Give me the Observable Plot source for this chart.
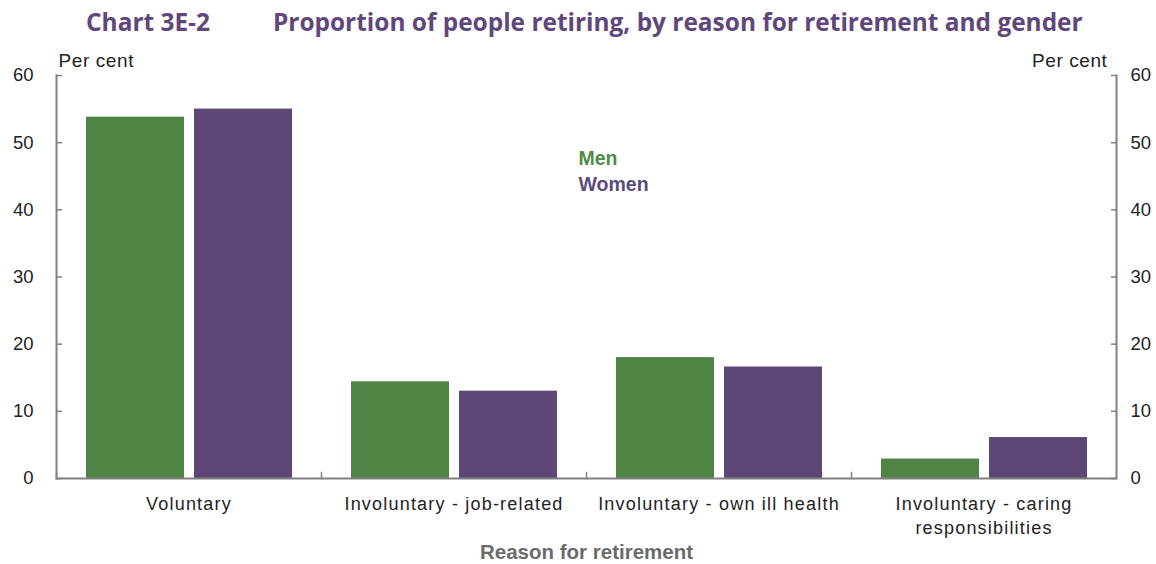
<!DOCTYPE html>
<html>
<head>
<meta charset="utf-8">
<script src="https://cdn.jsdelivr.net/npm/d3@7"></script>
<script src="https://cdn.jsdelivr.net/npm/@observablehq/plot@0.6"></script>
<style>
  html, body { margin: 0; padding: 0; background: #fff; }
  body { width: 1156px; height: 564px; overflow: hidden; }
  #title { position: relative; height: 44px; font-family: "Open Sans", Lato, sans-serif; font-weight: bold; color: #5f477b; font-size: 22px; line-height: 1; }
  #title span { position: absolute; top: 10px; white-space: nowrap; }
  #t1 { left: 86px; }
  #t2 { left: 273px; }
  #chart svg g[aria-label="fx-axis tick label"] text { letter-spacing: 1.2px; }
  #chart svg .percent-label text { letter-spacing: 0.6px; }
</style>
</head>
<body>
<div id="title"><span id="t1">Chart 3E-2</span><span id="t2">Proportion of people retiring, by reason for retirement and gender</span></div>
<div id="chart"></div>
<script>
const categories = ["Voluntary", "Involuntary - job-related", "Involuntary - own ill health", "Involuntary - caring responsibilities"];
const categoryLabels = ["Voluntary", "Involuntary - job-related", "Involuntary - own ill health", "Involuntary - caring\nresponsibilities"];
const genders = ["Men", "Women"];
const menValues = [53.8, 14.4, 18.0, 2.9];
const womenValues = [55.0, 13.0, 16.6, 6.1];
const yTicks = [0, 10, 20, 30, 40, 50, 60];
const colors = ["#4f8544", "#5e4776"];

const data = categories.flatMap((c, i) => [
  {category: c, gender: genders[0], value: menValues[i]},
  {category: c, gender: genders[1], value: womenValues[i]}
]);
const labelOf = new Map(categories.map((c, i) => [c, categoryLabels[i]]));

const W = 1156, H = 520, MT = 31, MB = 86, ML = 56, MR = 40;
const axisGray = "#808080";

const chart = Plot.plot({
  width: W, height: H,
  marginTop: MT, marginBottom: MB, marginLeft: ML, marginRight: MR,
  style: {fontFamily: "'Liberation Sans', Arial, sans-serif", fontSize: "18px", color: "#222", background: "#fff"},
  fx: {domain: categories, padding: 0, label: null},
  x: {domain: genders, paddingInner: 0.0926, paddingOuter: 0.273, axis: null},
  y: {domain: [0, 60]},
  color: {domain: genders, range: colors},
  marks: [
    Plot.barY(data, {fx: "category", x: "gender", y: "value", fill: "gender"}),
    Plot.ruleY([0], {stroke: axisGray, strokeWidth: 2}),
    Plot.frame({anchor: "left", insetTop: H - MT - MB - 6, stroke: axisGray, strokeWidth: 1.5}),
    Plot.frame({anchor: "left", facet: "super", stroke: axisGray, strokeWidth: 2}),
    Plot.frame({anchor: "right", facet: "super", stroke: axisGray, strokeWidth: 2}),
    Plot.axisY(yTicks, {anchor: "left", tickSize: -6, text: null, label: null, stroke: axisGray, strokeWidth: 1.5}),
    Plot.axisY(yTicks, {anchor: "left", tickSize: 0, tickPadding: 23, label: null, fill: "#222", fontSize: 18.5}),
    Plot.axisY(yTicks, {anchor: "right", tickSize: -6, text: null, label: null, stroke: axisGray, strokeWidth: 1.5}),
    Plot.axisY(yTicks, {anchor: "right", tickSize: 0, tickPadding: 14, label: null, fill: "#222", fontSize: 18.5}),
    Plot.axisFx({anchor: "bottom", tickSize: 0, tickPadding: 15, label: null, tickFormat: d => labelOf.get(d), lineHeight: 1.33, fill: "#222"}),
    Plot.text(["Per cent"], {facet: "super", className: "percent-label", frameAnchor: "top-left", dx: 2, dy: -22, textAnchor: "start", fill: "#222", fontSize: 19}),
    Plot.text(["Per cent"], {facet: "super", className: "percent-label", frameAnchor: "top-right", dx: -9, dy: -22, textAnchor: "end", fill: "#222", fontSize: 19}),
    Plot.text([genders[0]], {facet: "super", frameAnchor: "top-left", dx: 522, dy: 76, textAnchor: "start", fill: "#4f8a46", fontWeight: "bold", fontSize: 19.5}),
    Plot.text([genders[1]], {facet: "super", frameAnchor: "top-left", dx: 522, dy: 102, textAnchor: "start", fill: "#5b4b7c", fontWeight: "bold", fontSize: 19.5}),
    Plot.text(["Reason for retirement"], {facet: "super", frameAnchor: "bottom", dy: 80, fill: "#6b6b6b", fontWeight: "bold", fontSize: 20.5})
  ]
});
document.getElementById("chart").appendChild(chart);

// fit title spans to the reference widths
function fit(id, target) {
  const el = document.getElementById(id);
  const w = el.getBoundingClientRect().width;
  const fs = parseFloat(getComputedStyle(el).fontSize);
  el.style.fontSize = (fs * target / w) + "px";
}
fit("t1", 124);
fit("t2", 810);
</script>
</body>
</html>
